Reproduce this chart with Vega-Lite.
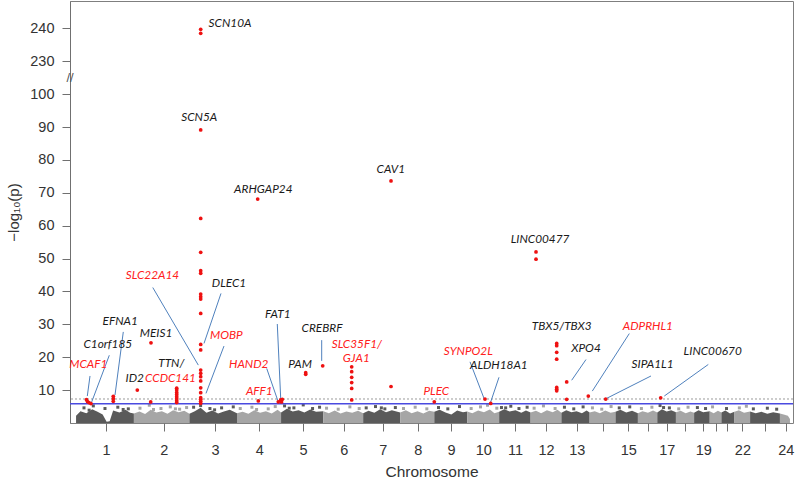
{
"$schema": "https://vega.github.io/schema/vega-lite/v6.json",
"width": 723, "height": 422,
"autosize": {"type": "none"},
"padding": {"left": 70, "top": 1, "right": 7, "bottom": 68},
"background": "white",
"config": {"view": {"stroke": "#7f7f7f", "strokeWidth": 1}, "font": "Liberation Sans",
"axisX": {"domain": false, "grid": false, "tickSize": 8, "tickColor": "#707070", "labelFontSize": 14.5, "labelColor": "#333333", "labelPadding": 12, "labelOverlap": false, "labelFlush": false, "labelFont": "Liberation Sans", "titleFontSize": 15.5, "titleFontWeight": "normal", "titleColor": "#333333", "titlePadding": 8, "titleFont": "Liberation Sans"},
"axisY": {"domain": true, "domainColor": "#707070", "grid": false, "tickSize": 8, "tickColor": "#707070", "labelFontSize": 14.5, "labelColor": "#333333", "labelPadding": 8, "labelOverlap": false, "labelFont": "Liberation Sans", "titleFontSize": 15, "titleFontWeight": "normal", "titleColor": "#333333", "titlePadding": 8, "titleFont": "Liberation Sans"}
},
"datasets": {
"mass": [
{"c":1,"s":"dark","pos":26,"h":2.2},{"c":1,"s":"dark","pos":45,"h":3.6},{"c":1,"s":"dark","pos":70,"h":3.0},{"c":1,"s":"dark","pos":95,"h":4.2},{"c":1,"s":"dark","pos":118,"h":3.4},{"c":1,"s":"dark","pos":140,"h":2.6},{"c":1,"s":"dark","pos":157,"h":0.4},{"c":1,"s":"dark","pos":170,"h":0.5},{"c":1,"s":"dark","pos":185,"h":3.8},{"c":1,"s":"dark","pos":212,"h":3.2},{"c":1,"s":"dark","pos":238,"h":4.0},{"c":1,"s":"dark","pos":258,"h":3.1},{"c":1,"s":"dark","pos":274,"h":2.9},
{"c":2,"s":"light","pos":274,"h":2.9},{"c":2,"s":"light","pos":298,"h":3.5},{"c":2,"s":"light","pos":322,"h":2.7},{"c":2,"s":"light","pos":346,"h":4.0},{"c":2,"s":"light","pos":370,"h":3.2},{"c":2,"s":"light","pos":394,"h":3.6},{"c":2,"s":"light","pos":418,"h":2.8},{"c":2,"s":"light","pos":442,"h":3.9},{"c":2,"s":"light","pos":466,"h":3.3},{"c":2,"s":"light","pos":490,"h":3.7},{"c":2,"s":"light","pos":512,"h":2.8},
{"c":3,"s":"dark","pos":512,"h":2.8},{"c":3,"s":"dark","pos":535,"h":3.6},{"c":3,"s":"dark","pos":560,"h":4.6},{"c":3,"s":"dark","pos":585,"h":3.1},{"c":3,"s":"dark","pos":610,"h":3.8},{"c":3,"s":"dark","pos":635,"h":2.9},{"c":3,"s":"dark","pos":660,"h":3.5},{"c":3,"s":"dark","pos":685,"h":4.0},{"c":3,"s":"dark","pos":716,"h":3.0},
{"c":4,"s":"light","pos":716,"h":3.0},{"c":4,"s":"light","pos":740,"h":3.4},{"c":4,"s":"light","pos":765,"h":2.8},{"c":4,"s":"light","pos":790,"h":3.9},{"c":4,"s":"light","pos":815,"h":3.1},{"c":4,"s":"light","pos":840,"h":3.6},{"c":4,"s":"light","pos":865,"h":2.9},{"c":4,"s":"light","pos":890,"h":4.0},{"c":4,"s":"light","pos":905,"h":3.2},
{"c":5,"s":"dark","pos":905,"h":3.2},{"c":5,"s":"dark","pos":930,"h":4.3},{"c":5,"s":"dark","pos":955,"h":3.5},{"c":5,"s":"dark","pos":980,"h":3.9},{"c":5,"s":"dark","pos":1005,"h":3.2},{"c":5,"s":"dark","pos":1030,"h":4.1},{"c":5,"s":"dark","pos":1055,"h":3.4},{"c":5,"s":"dark","pos":1086,"h":3.6},
{"c":6,"s":"light","pos":1086,"h":3.6},{"c":6,"s":"light","pos":1110,"h":3.0},{"c":6,"s":"light","pos":1135,"h":3.8},{"c":6,"s":"light","pos":1160,"h":2.9},{"c":6,"s":"light","pos":1185,"h":3.5},{"c":6,"s":"light","pos":1210,"h":3.1},{"c":6,"s":"light","pos":1235,"h":3.7},{"c":6,"s":"light","pos":1257,"h":3.0},
{"c":7,"s":"dark","pos":1257,"h":3.0},{"c":7,"s":"dark","pos":1280,"h":3.7},{"c":7,"s":"dark","pos":1305,"h":3.1},{"c":7,"s":"dark","pos":1330,"h":4.2},{"c":7,"s":"dark","pos":1355,"h":3.3},{"c":7,"s":"dark","pos":1380,"h":3.9},{"c":7,"s":"dark","pos":1416,"h":3.2},
{"c":8,"s":"light","pos":1416,"h":3.2},{"c":8,"s":"light","pos":1440,"h":3.9},{"c":8,"s":"light","pos":1465,"h":3.0},{"c":8,"s":"light","pos":1490,"h":3.6},{"c":8,"s":"light","pos":1515,"h":2.9},{"c":8,"s":"light","pos":1540,"h":3.7},{"c":8,"s":"light","pos":1562,"h":3.4},
{"c":9,"s":"dark","pos":1562,"h":3.4},{"c":9,"s":"dark","pos":1585,"h":4.0},{"c":9,"s":"dark","pos":1610,"h":3.2},{"c":9,"s":"dark","pos":1635,"h":2.6},{"c":9,"s":"dark","pos":1660,"h":3.8},{"c":9,"s":"dark","pos":1685,"h":3.3},{"c":9,"s":"dark","pos":1703,"h":3.5},
{"c":10,"s":"light","pos":1703,"h":3.5},{"c":10,"s":"light","pos":1725,"h":3.0},{"c":10,"s":"light","pos":1750,"h":3.8},{"c":10,"s":"light","pos":1775,"h":3.3},{"c":10,"s":"light","pos":1800,"h":4.1},{"c":10,"s":"light","pos":1820,"h":3.0},{"c":10,"s":"light","pos":1840,"h":3.4},
{"c":11,"s":"dark","pos":1840,"h":3.4},{"c":11,"s":"dark","pos":1862,"h":4.2},{"c":11,"s":"dark","pos":1885,"h":3.5},{"c":11,"s":"dark","pos":1910,"h":3.9},{"c":11,"s":"dark","pos":1935,"h":3.1},{"c":11,"s":"dark","pos":1955,"h":3.8},{"c":11,"s":"dark","pos":1975,"h":3.2},
{"c":12,"s":"light","pos":1975,"h":3.2},{"c":12,"s":"light","pos":1998,"h":3.7},{"c":12,"s":"light","pos":2020,"h":3.0},{"c":12,"s":"light","pos":2045,"h":3.9},{"c":12,"s":"light","pos":2070,"h":3.3},{"c":12,"s":"light","pos":2090,"h":4.0},{"c":12,"s":"light","pos":2107,"h":3.1},
{"c":13,"s":"dark","pos":2107,"h":3.1},{"c":13,"s":"dark","pos":2128,"h":3.9},{"c":13,"s":"dark","pos":2150,"h":3.3},{"c":13,"s":"dark","pos":2172,"h":3.6},{"c":13,"s":"dark","pos":2195,"h":3.0},{"c":13,"s":"dark","pos":2215,"h":3.8},{"c":13,"s":"dark","pos":2228,"h":3.2},
{"c":14,"s":"light","pos":2228,"h":3.2},{"c":14,"s":"light","pos":2250,"h":3.6},{"c":14,"s":"light","pos":2272,"h":3.0},{"c":14,"s":"light","pos":2295,"h":3.8},{"c":14,"s":"light","pos":2318,"h":3.1},{"c":14,"s":"light","pos":2339,"h":3.4},
{"c":15,"s":"dark","pos":2339,"h":3.4},{"c":15,"s":"dark","pos":2360,"h":4.0},{"c":15,"s":"dark","pos":2385,"h":3.2},{"c":15,"s":"dark","pos":2410,"h":3.7},{"c":15,"s":"dark","pos":2435,"h":3.0},
{"c":16,"s":"light","pos":2435,"h":3.0},{"c":16,"s":"light","pos":2455,"h":3.6},{"c":16,"s":"light","pos":2478,"h":3.1},{"c":16,"s":"light","pos":2500,"h":3.8},{"c":16,"s":"light","pos":2518,"h":3.2},
{"c":17,"s":"dark","pos":2518,"h":3.2},{"c":17,"s":"dark","pos":2538,"h":4.2},{"c":17,"s":"dark","pos":2558,"h":3.5},{"c":17,"s":"dark","pos":2578,"h":3.9},{"c":17,"s":"dark","pos":2598,"h":3.3},
{"c":18,"s":"light","pos":2598,"h":3.3},{"c":18,"s":"light","pos":2618,"h":3.7},{"c":18,"s":"light","pos":2640,"h":3.0},{"c":18,"s":"light","pos":2660,"h":3.5},{"c":18,"s":"light","pos":2676,"h":3.1},
{"c":19,"s":"dark","pos":2676,"h":3.1},{"c":19,"s":"dark","pos":2695,"h":3.9},{"c":19,"s":"dark","pos":2715,"h":3.3},{"c":19,"s":"dark","pos":2743,"h":3.6},
{"c":20,"s":"light","pos":2743,"h":3.6},{"c":20,"s":"light","pos":2760,"h":3.0},{"c":20,"s":"light","pos":2778,"h":3.7},{"c":20,"s":"light","pos":2793,"h":3.2},
{"c":21,"s":"dark","pos":2793,"h":3.2},{"c":21,"s":"dark","pos":2810,"h":3.8},{"c":21,"s":"dark","pos":2830,"h":2.9},{"c":21,"s":"dark","pos":2849,"h":3.4},
{"c":22,"s":"light","pos":2849,"h":3.4},{"c":22,"s":"light","pos":2868,"h":3.9},{"c":22,"s":"light","pos":2890,"h":3.1},{"c":22,"s":"light","pos":2916,"h":3.5},
{"c":23,"s":"dark","pos":2916,"h":3.5},{"c":23,"s":"dark","pos":2940,"h":3.0},{"c":23,"s":"dark","pos":2965,"h":3.4},{"c":23,"s":"dark","pos":2990,"h":2.8},{"c":23,"s":"dark","pos":3015,"h":3.3},{"c":23,"s":"dark","pos":3044,"h":2.9},
{"c":24,"s":"light","pos":3044,"h":2.9},{"c":24,"s":"light","pos":3060,"h":2.6},{"c":24,"s":"light","pos":3078,"h":2.2},{"c":24,"s":"light","pos":3087,"h":1.2}
],
"dots": [
{"s":"dark","pos":60,"v":4.6},{"s":"dark","pos":100,"v":5.2},{"s":"dark","pos":150,"v":4.4},{"s":"dark","pos":205,"v":4.8},{"s":"dark","pos":250,"v":4.3},{"s":"dark","pos":82,"v":3.9},{"s":"dark","pos":228,"v":4.1},
{"s":"light","pos":300,"v":4.5},{"s":"light","pos":340,"v":5.4},{"s":"light","pos":390,"v":4.4},{"s":"light","pos":430,"v":4.9},{"s":"light","pos":470,"v":4.2},{"s":"light","pos":500,"v":4.7},{"s":"light","pos":358,"v":4.1},{"s":"light","pos":452,"v":4.3},
{"s":"dark","pos":530,"v":4.8},{"s":"dark","pos":560,"v":5.3},{"s":"dark","pos":600,"v":4.4},{"s":"dark","pos":650,"v":4.6},{"s":"dark","pos":700,"v":4.9},{"s":"dark","pos":620,"v":4.0},
{"s":"light","pos":730,"v":4.4},{"s":"light","pos":780,"v":4.8},{"s":"light","pos":850,"v":4.3},{"s":"light","pos":880,"v":5.0},{"s":"light","pos":800,"v":4.1},
{"s":"dark","pos":920,"v":5.2},{"s":"dark","pos":960,"v":4.6},{"s":"dark","pos":1000,"v":5.5},{"s":"dark","pos":1040,"v":4.4},{"s":"dark","pos":1070,"v":4.8},{"s":"dark","pos":940,"v":4.5},
{"s":"light","pos":1100,"v":4.5},{"s":"light","pos":1150,"v":4.2},{"s":"light","pos":1200,"v":4.9},{"s":"light","pos":1240,"v":4.4},
{"s":"dark","pos":1270,"v":4.6},{"s":"dark","pos":1310,"v":5.0},{"s":"dark","pos":1350,"v":4.3},{"s":"dark","pos":1395,"v":4.7},{"s":"dark","pos":1335,"v":4.6},
{"s":"light","pos":1430,"v":4.4},{"s":"light","pos":1480,"v":4.8},{"s":"light","pos":1530,"v":4.3},
{"s":"dark","pos":1580,"v":4.7},{"s":"dark","pos":1620,"v":4.3},{"s":"dark","pos":1670,"v":5.0},
{"s":"light","pos":1720,"v":4.4},{"s":"light","pos":1760,"v":4.9},{"s":"light","pos":1790,"v":5.4},{"s":"light","pos":1830,"v":4.5},
{"s":"dark","pos":1850,"v":4.7},{"s":"dark","pos":1890,"v":5.1},{"s":"dark","pos":1925,"v":4.4},{"s":"dark","pos":1960,"v":4.8},{"s":"dark","pos":1868,"v":4.6},
{"s":"light","pos":1990,"v":4.5},{"s":"light","pos":2030,"v":5.2},{"s":"light","pos":2080,"v":4.4},
{"s":"dark","pos":2120,"v":4.8},{"s":"dark","pos":2160,"v":4.3},{"s":"dark","pos":2200,"v":4.9},
{"s":"light","pos":2240,"v":4.6},{"s":"light","pos":2280,"v":4.2},{"s":"light","pos":2320,"v":5.0},
{"s":"dark","pos":2355,"v":4.6},{"s":"dark","pos":2400,"v":4.9},
{"s":"light","pos":2450,"v":4.4},{"s":"light","pos":2495,"v":4.8},
{"s":"dark","pos":2530,"v":5.3},{"s":"dark","pos":2570,"v":4.6},{"s":"dark","pos":2545,"v":4.7},
{"s":"light","pos":2610,"v":4.3},{"s":"light","pos":2650,"v":4.8},
{"s":"dark","pos":2690,"v":4.7},{"s":"dark","pos":2725,"v":4.4},
{"s":"light","pos":2755,"v":4.9},
{"s":"dark","pos":2815,"v":4.4},
{"s":"light","pos":2870,"v":4.6},{"s":"light","pos":2900,"v":5.1},
{"s":"dark","pos":2930,"v":4.3},{"s":"dark","pos":2990,"v":4.5},{"s":"dark","pos":3030,"v":4.2}
],
"hits": [
{"pos":70.7,"v":7.1},{"pos":75.0,"v":6.5},{"pos":81.5,"v":6.2},{"pos":90,"v":5.9},
{"pos":185.7,"v":8.1},{"pos":185.7,"v":7.4},{"pos":185.7,"v":6.6},
{"pos":288.6,"v":10.0},{"pos":347.3,"v":24.4},{"pos":346,"v":6.4},
{"pos":457.5,"v":10.6},{"pos":457.5,"v":10.0},{"pos":457.5,"v":9.3},{"pos":457.5,"v":8.7},{"pos":457.5,"v":8.0},{"pos":457.5,"v":7.4},{"pos":457.5,"v":6.8},{"pos":457.5,"v":6.2},
{"pos":560.4,"v":239.7},{"pos":560.4,"v":238.5},{"pos":560.4,"v":89.1},{"pos":560.4,"v":62.2},{"pos":560.4,"v":51.9},{"pos":560.4,"v":46.3},{"pos":560.4,"v":45.5},{"pos":560.4,"v":39.2},{"pos":560.4,"v":38.4},{"pos":560.4,"v":37.7},{"pos":560.4,"v":33.3},{"pos":560.4,"v":23.9},{"pos":560.4,"v":22.2},{"pos":560.4,"v":16.1},{"pos":560.4,"v":15.1},{"pos":560.4,"v":14.1},{"pos":560.4,"v":12.8},{"pos":560.4,"v":10.7},{"pos":560.4,"v":9.2},{"pos":560.4,"v":7.7},{"pos":560.4,"v":7.2},{"pos":560.4,"v":6.6},{"pos":560.4,"v":6.0},
{"pos":804.8,"v":68.1},{"pos":807.4,"v":6.7},
{"pos":893.1,"v":6.45},{"pos":903.4,"v":7.0},{"pos":910.3,"v":7.2},{"pos":907,"v":6.4},
{"pos":1010.6,"v":15.3},{"pos":1010.6,"v":14.8},{"pos":1083.5,"v":17.4},
{"pos":1207.8,"v":17.1},{"pos":1207.8,"v":15.6},{"pos":1207.8,"v":13.9},{"pos":1207.8,"v":12.3},{"pos":1207.8,"v":10.5},{"pos":1207.8,"v":7.0},
{"pos":1376.4,"v":11.1},{"pos":1376.4,"v":73.6},
{"pos":1562,"v":6.45},{"pos":1779.4,"v":7.27},{"pos":1803.8,"v":5.96},
{"pos":1998.1,"v":52.0},{"pos":1998.1,"v":49.8},
{"pos":2086.8,"v":24.2},{"pos":2086.8,"v":23.5},{"pos":2086.8,"v":21.5},{"pos":2086.8,"v":19.4},{"pos":2086.8,"v":10.8},{"pos":2086.8,"v":10.3},{"pos":2086.8,"v":9.8},
{"pos":2129.7,"v":12.5},{"pos":2129.7,"v":7.2},
{"pos":2222.3,"v":8.2},{"pos":2296.9,"v":7.27},{"pos":2532.7,"v":7.66}
],
"labels": [
{"pos":686,"v":241.6,"label":"SCN10A","status":"known"},
{"pos":553.9,"v":92.9,"label":"SCN5A","status":"known"},
{"pos":828.8,"v":71.1,"label":"ARHGAP24","status":"known"},
{"pos":1375.5,"v":77.1,"label":"CAV1","status":"known"},
{"pos":2015.2,"v":55.9,"label":"LINC00477","status":"known"},
{"pos":681.7,"v":42.7,"label":"DLEC1","status":"known"},
{"pos":353.7,"v":45.0,"label":"SLC22A14","status":"novel"},
{"pos":670.2,"v":26.8,"label":"MOBP","status":"novel"},
{"pos":215.2,"v":31.1,"label":"EFNA1","status":"known"},
{"pos":368.7,"v":27.3,"label":"MEIS1","status":"known"},
{"pos":162.1,"v":23.9,"label":"C1orf185","status":"known"},
{"pos":78.5,"v":17.8,"label":"MCAF1","status":"novel"},
{"pos":277.4,"v":13.8,"label":"ID2","status":"known"},
{"pos":434.3,"v":18.2,"label":"TTN/","status":"known"},
{"pos":430.9,"v":13.8,"label":"CCDC141","status":"novel"},
{"pos":766.2,"v":17.8,"label":"HAND2","status":"novel"},
{"pos":811.7,"v":9.7,"label":"AFF1","status":"novel"},
{"pos":890.6,"v":33.2,"label":"FAT1","status":"known"},
{"pos":986.2,"v":18.0,"label":"PAM","status":"known"},
{"pos":1080.5,"v":29.0,"label":"CREBRF","status":"known"},
{"pos":1229.7,"v":24.1,"label":"SLC35F1/","status":"novel"},
{"pos":1227.5,"v":19.9,"label":"GJA1","status":"novel"},
{"pos":1570.6,"v":9.8,"label":"PLEC","status":"novel"},
{"pos":1707.8,"v":22.0,"label":"SYNPO2L","status":"novel"},
{"pos":1838.6,"v":17.5,"label":"ALDH18A1","status":"known"},
{"pos":2108.2,"v":29.4,"label":"TBX5/TBX3","status":"known"},
{"pos":2212.5,"v":22.8,"label":"XPO4","status":"known"},
{"pos":2477.4,"v":29.4,"label":"ADPRHL1","status":"novel"},
{"pos":2497.6,"v":18.0,"label":"SIPA1L1","status":"known"},
{"pos":2755.7,"v":21.8,"label":"LINC00670","status":"known"}
],
"leaders": [
{"pos":354.9,"v":41.2,"pos2":550.1,"v2":17.6},
{"pos":647.4,"v":39.4,"pos2":574.6,"v2":24.2},
{"pos":660.3,"v":23.4,"pos2":583.1,"v2":9.0},
{"pos":228.5,"v":27.7,"pos2":192.9,"v2":8.5},
{"pos":168.5,"v":20.6,"pos2":93.0,"v2":6.4},
{"pos":85.8,"v":14.3,"pos2":74.2,"v2":8.2},
{"pos":843.4,"v":16.6,"pos2":893.1,"v2":6.4},
{"pos":888.8,"v":30.1,"pos2":903.4,"v2":7.5},
{"pos":1079.2,"v":25.2,"pos2":1079.2,"v2":18.9},
{"pos":1715.1,"v":18.6,"pos2":1775.1,"v2":7.5},
{"pos":1839.4,"v":13.9,"pos2":1803.8,"v2":6.4},
{"pos":2212.5,"v":19.3,"pos2":2151.1,"v2":13.0},
{"pos":2398.1,"v":27.2,"pos2":2239.5,"v2":9.7},
{"pos":2491.1,"v":14.3,"pos2":2301.2,"v2":7.5},
{"pos":2736.8,"v":17.8,"pos2":2548.1,"v2":8.2}
]
},
"encoding": {
"x": {"field": "pos", "type": "quantitative", "scale": {"domain": [0, 3100], "nice": false, "zero": false},
"axis": {"title": "Chromosome", "values": [154,402,622,812,999,1174,1341,1491,1634,1772,1908,2041,2173,2284,2394,2477,2559,2637,2715,2770,2816,2883,2980,3069],
"labelExpr": "['1','2','3','4','5','6','7','8','9','10','11','12','13','','15','','17','','19','','','22','','24'][indexof([154,402,622,812,999,1174,1341,1491,1634,1772,1908,2041,2173,2284,2394,2477,2559,2637,2715,2770,2816,2883,2980,3069], datum.value)]"}},
"y": {"field": "v", "type": "quantitative", "scale": {"domain": [0, 105, 225, 248.3], "range": [422, 76.7, 76.7, 0], "nice": false, "zero": false},
"axis": {"title": "−log₁₀(p)", "values": [10,20,30,40,50,60,70,80,90,100,230,240]}}
},
"layer": [
{
"data": {"name": "mass"},
"mark": {"type": "area", "interpolate": "linear"},
"encoding": {
"y": {"field": "h", "type": "quantitative", "stack": null, "scale": {"domain": [0, 105, 225, 248.3], "range": [422, 76.7, 76.7, 0], "nice": false, "zero": false},
"axis": {"title": "−log₁₀(p)", "values": [10,20,30,40,50,60,70,80,90,100,230,240]}},
"color": {"field": "s", "type": "nominal", "scale": {"domain": ["dark", "light"], "range": ["#5a5a5a", "#a6a6a6"]}, "legend": null},
"detail": {"field": "c", "type": "nominal"}
}
},
{
"data": {"name": "dots"},
"mark": {"type": "square", "size": 9, "opacity": 1},
"encoding": {
"color": {"field": "s", "type": "nominal", "scale": {"domain": ["dark", "light"], "range": ["#5a5a5a", "#a6a6a6"]}, "legend": null}
}
},
{
"data": {"values": [{"v": 7.3}]},
"mark": {"type": "rule", "color": "#9a9a9a", "strokeDash": [2, 2], "strokeWidth": 1},
"encoding": {"x": null}
},
{
"data": {"values": [{"v": 5.85}]},
"mark": {"type": "rule", "color": "#4a4ae0", "strokeWidth": 1.5},
"encoding": {"x": null}
},
{
"data": {"name": "leaders"},
"mark": {"type": "rule", "color": "#4f81bd", "strokeWidth": 1},
"encoding": {
"x2": {"field": "pos2"},
"y2": {"field": "v2"}
}
},
{
"data": {"name": "hits"},
"mark": {"type": "circle", "size": 14, "color": "#ee1111", "opacity": 1},
"encoding": {}
},
{
"data": {"name": "labels"},
"mark": {"type": "text", "font": "Lato", "fontStyle": "italic", "fontSize": 11.8, "align": "center", "baseline": "middle"},
"encoding": {
"text": {"field": "label"},
"color": {"field": "status", "type": "nominal", "scale": {"domain": ["novel", "known"], "range": ["#ff2020", "#1a1a1a"]}, "legend": null}
}
},
{
"data": {"values": [{"pos": 0, "v": 105}]},
"mark": {"type": "text", "text": "//", "fontSize": 13, "color": "#555555", "align": "center", "baseline": "middle", "font": "Liberation Sans"},
"encoding": {}
}
],
"resolve": {"scale": {"color": "independent"}}
}
